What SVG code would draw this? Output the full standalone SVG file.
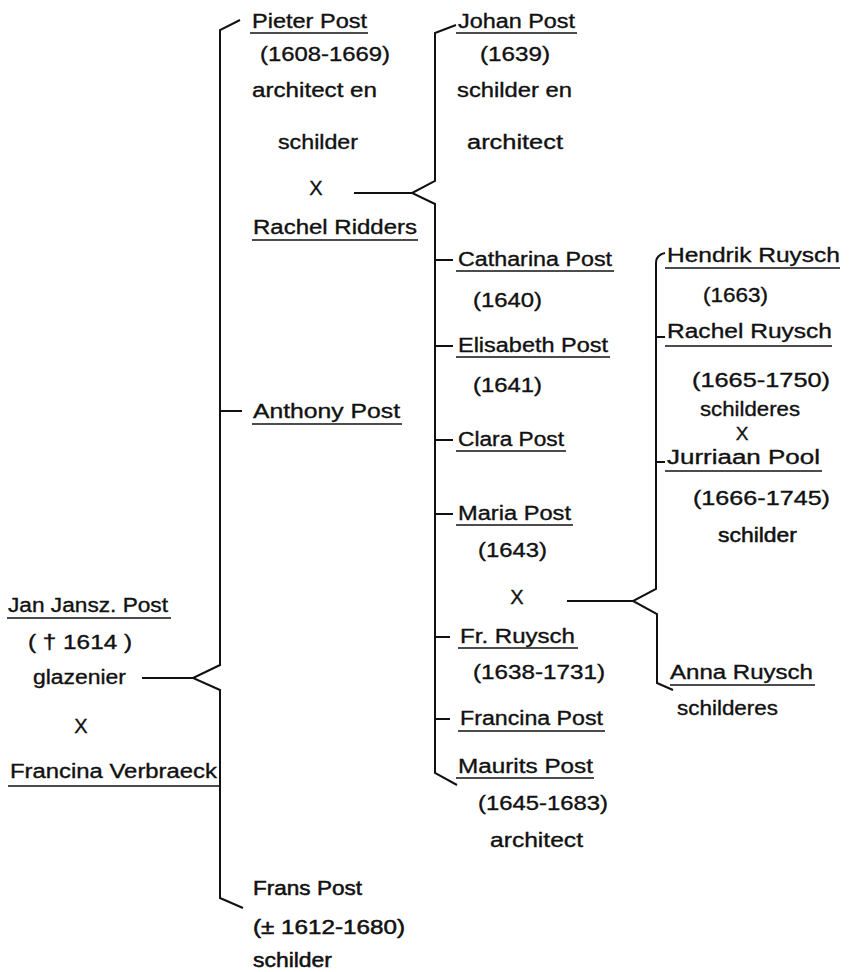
<svg xmlns="http://www.w3.org/2000/svg" width="849" height="972" viewBox="0 0 849 972">
<style>
text{font-family:"Liberation Sans",Arial,sans-serif;font-size:20px;fill:#111;stroke:#111;stroke-width:0.35;}
.c{text-anchor:middle;}
.b{stroke-width:0.5;}
.ln{fill:none;stroke:#111;stroke-width:2;stroke-linejoin:miter;}
.ul{fill:none;stroke:#111;stroke-width:1.7;}
</style>
<rect width="849" height="972" fill="#fff"/>
<g id="connectors">
<path class="ln" d="M240,20 L220,30 L220,665 L193,678 L220,690 L220,898 L243,908"/>
<path class="ln" d="M142,678 L193,678"/>
<path class="ln" d="M220,411 L242,411"/>
<path class="ln" d="M354,193 L412,193"/>
<path class="ln" d="M456,25 L435,33 L435,181 L412,193 L435,204 L435,773 L457,785"/>
<path class="ln" d="M435,260 L453,260 M435,346 L453,346 M435,440 L453,440 M435,514 L453,514 M435,637 L450,637 M435,719 L450,719"/>
<path class="ln" d="M567,601 L633,601"/>
<path class="ln" d="M665,253 Q656,255 656,263 L656,589 L633,601 L657,614 L657,683 L673,690"/>
<path class="ln" d="M656,337 L665,337 M656,462 L665,462"/>
</g>
<g id="jan">
<text x="8" y="612" textLength="160" lengthAdjust="spacingAndGlyphs">Jan Jansz. Post</text>
<path class="ul" d="M7,618 H171"/>
<text x="28" y="649" textLength="104" lengthAdjust="spacingAndGlyphs">( † 1614 )</text>
<text x="33" y="684" textLength="93" lengthAdjust="spacingAndGlyphs">glazenier</text>
<text class="c" x="81" y="733">X</text>
<text x="10" y="778" textLength="207" lengthAdjust="spacingAndGlyphs">Francina Verbraeck</text>
<path class="ul" d="M8,786 H220"/>
</g>
<g id="pieter">
<text x="252" y="28" textLength="115" lengthAdjust="spacingAndGlyphs">Pieter Post</text>
<path class="ul" d="M250,33 H368"/>
<text x="260" y="61" textLength="130" lengthAdjust="spacingAndGlyphs">(1608-1669)</text>
<text x="252" y="97" textLength="125" lengthAdjust="spacingAndGlyphs">architect en</text>
<text x="278" y="149" textLength="80" lengthAdjust="spacingAndGlyphs">schilder</text>
<text class="c" x="316" y="195">X</text>
<text x="253" y="234" textLength="164" lengthAdjust="spacingAndGlyphs">Rachel Ridders</text>
<path class="ul" d="M252,240 H418"/>
</g>
<g id="anthony">
<text x="253" y="418" textLength="147" lengthAdjust="spacingAndGlyphs">Anthony Post</text>
<path class="ul" d="M252,424 H402"/>
</g>
<g id="frans">
<text class="b" x="253" y="895" textLength="109" lengthAdjust="spacingAndGlyphs">Frans Post</text>
<text class="b" x="253" y="934" textLength="152" lengthAdjust="spacingAndGlyphs">(± 1612-1680)</text>
<text class="b" x="253" y="967" textLength="79" lengthAdjust="spacingAndGlyphs">schilder</text>
</g>
<g id="johan">
<text x="458" y="28" textLength="117" lengthAdjust="spacingAndGlyphs">Johan Post</text>
<path class="ul" d="M456,33 H577"/>
<text x="480" y="61" textLength="70" lengthAdjust="spacingAndGlyphs">(1639)</text>
<text x="457" y="97" textLength="115" lengthAdjust="spacingAndGlyphs">schilder en</text>
<text x="467" y="149" textLength="96" lengthAdjust="spacingAndGlyphs">architect</text>
</g>
<g id="catharina">
<text x="458" y="266" textLength="154" lengthAdjust="spacingAndGlyphs">Catharina Post</text>
<path class="ul" d="M456,271 H614"/>
<text x="473" y="307" textLength="69" lengthAdjust="spacingAndGlyphs">(1640)</text>
</g>
<g id="elisabeth">
<text x="458" y="352" textLength="150" lengthAdjust="spacingAndGlyphs">Elisabeth Post</text>
<path class="ul" d="M456,357 H610"/>
<text x="473" y="392" textLength="69" lengthAdjust="spacingAndGlyphs">(1641)</text>
</g>
<g id="clara">
<text x="458" y="446" textLength="106" lengthAdjust="spacingAndGlyphs">Clara Post</text>
<path class="ul" d="M456,451 H566"/>
</g>
<g id="maria">
<text x="458" y="520" textLength="113" lengthAdjust="spacingAndGlyphs">Maria Post</text>
<path class="ul" d="M456,525 H573"/>
<text x="478" y="557" textLength="69" lengthAdjust="spacingAndGlyphs">(1643)</text>
<text class="c" x="517" y="604">X</text>
<text x="460" y="643" textLength="115" lengthAdjust="spacingAndGlyphs">Fr. Ruysch</text>
<path class="ul" d="M458,648 H578"/>
<text x="473" y="679" textLength="132" lengthAdjust="spacingAndGlyphs">(1638-1731)</text>
</g>
<g id="francina">
<text x="460" y="725" textLength="143" lengthAdjust="spacingAndGlyphs">Francina Post</text>
<path class="ul" d="M458,731 H605"/>
</g>
<g id="maurits">
<text x="458" y="773" textLength="135" lengthAdjust="spacingAndGlyphs">Maurits Post</text>
<path class="ul" d="M456,778 H594"/>
<text x="478" y="810" textLength="130" lengthAdjust="spacingAndGlyphs">(1645-1683)</text>
<text x="490" y="847" textLength="93" lengthAdjust="spacingAndGlyphs">architect</text>
</g>
<g id="hendrik">
<text x="667" y="262" textLength="173" lengthAdjust="spacingAndGlyphs">Hendrik Ruysch</text>
<path class="ul" d="M665,268 H840"/>
<text x="703" y="302" textLength="65" lengthAdjust="spacingAndGlyphs">(1663)</text>
</g>
<g id="rachel-ruysch">
<text x="667" y="338" textLength="165" lengthAdjust="spacingAndGlyphs">Rachel Ruysch</text>
<path class="ul" d="M665,346 H832"/>
<text x="692" y="387" textLength="138" lengthAdjust="spacingAndGlyphs">(1665-1750)</text>
<text x="700" y="416" textLength="100" lengthAdjust="spacingAndGlyphs">schilderes</text>
<text class="c" x="742" y="440" style="font-size:19px">X</text>
</g>
<g id="jurriaan">
<text x="667" y="464" textLength="153" lengthAdjust="spacingAndGlyphs">Jurriaan Pool</text>
<path class="ul" d="M665,471 H822"/>
<text x="693" y="505" textLength="137" lengthAdjust="spacingAndGlyphs">(1666-1745)</text>
<text class="b" x="718" y="542" textLength="79" lengthAdjust="spacingAndGlyphs">schilder</text>
</g>
<g id="anna">
<text x="670" y="679" textLength="143" lengthAdjust="spacingAndGlyphs">Anna Ruysch</text>
<path class="ul" d="M670,685 H815"/>
<text x="677" y="715" textLength="101" lengthAdjust="spacingAndGlyphs">schilderes</text>
</g>
</svg>
